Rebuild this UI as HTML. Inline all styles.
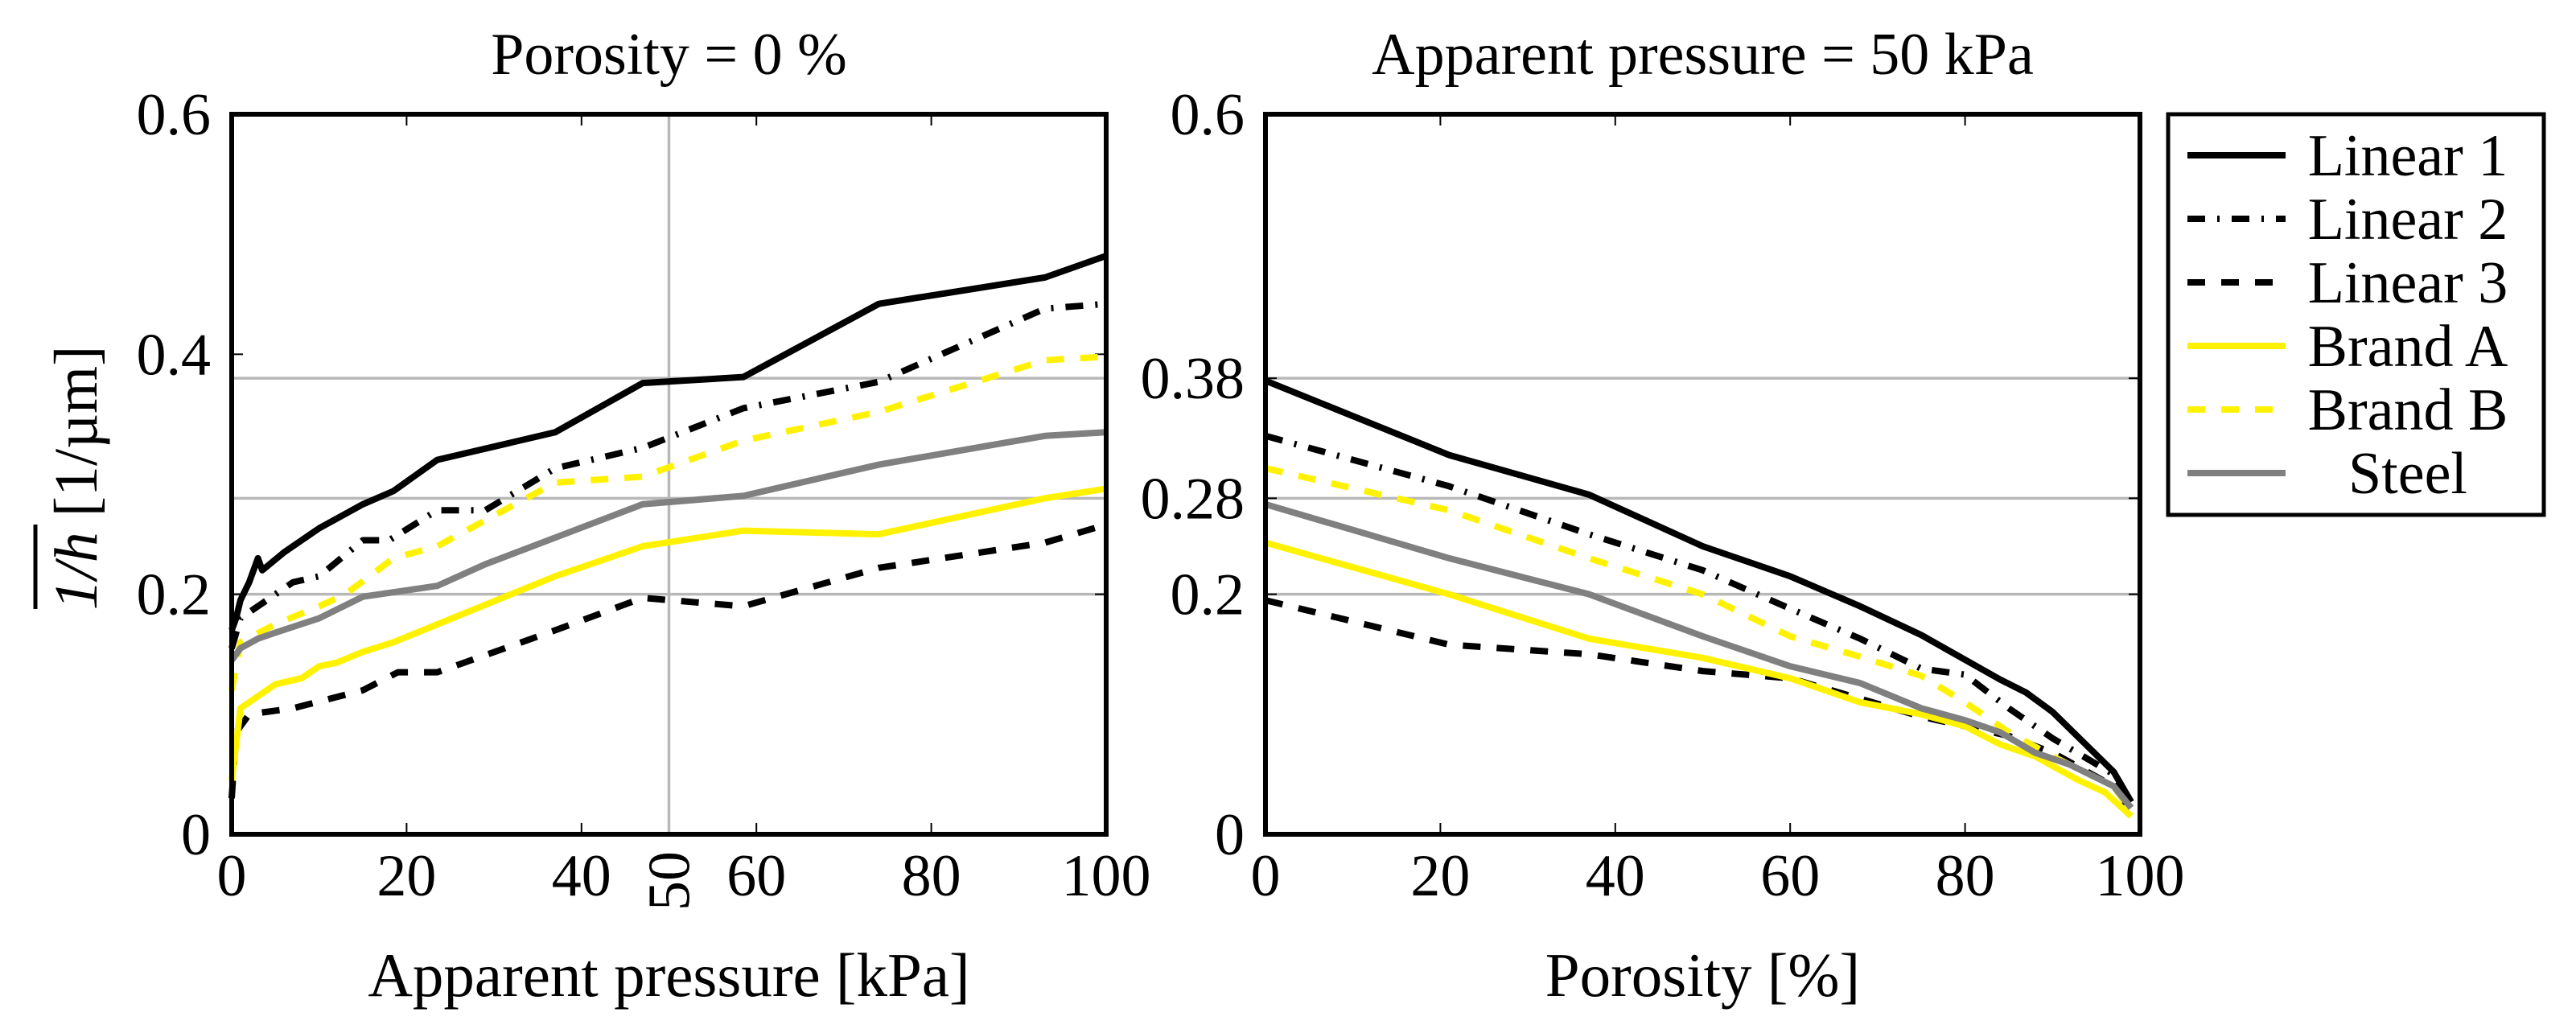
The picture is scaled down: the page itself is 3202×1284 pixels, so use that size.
<!DOCTYPE html>
<html><head><meta charset="utf-8"><style>
html,body{margin:0;padding:0;background:#fff;}
svg{display:block;font-family:"Liberation Serif","DejaVu Serif",serif;}
</style></head><body>
<svg id="fig" width="3202" height="1284" viewBox="0 0 3202 1284" xmlns="http://www.w3.org/2000/svg">
<g id="left"></g>
<g id="right"></g>
<g id="legend"></g>
</svg>
<script>
// ---- Left chart data (x = apparent pressure kPa) ----
const leftL1X=[0,0.5,1,2,3,3.5,6,10,15,18.5,23.5,37,47,58.5,74,93,100];
const leftL1Y=[0.17,0.18,0.195,0.21,0.23,0.22,0.235,0.255,0.275,0.286,0.312,0.335,0.376,0.381,0.442,0.464,0.482];
const leftL2X=[0,1,3,7,10,15,18,23.5,29,37,47,58.5,74,93,100];
const leftL2Y=[0.155,0.18,0.19,0.21,0.215,0.245,0.245,0.27,0.27,0.305,0.322,0.355,0.377,0.438,0.442];
const leftL3X=[0,0.5,2,7,15,19,23.5,37,47,58.5,74,93,100];
const leftL3Y=[0.03,0.085,0.1,0.105,0.12,0.135,0.135,0.17,0.197,0.19,0.222,0.243,0.258];
const leftBAX=[0,1,5,8,10,12,15,18.5,37,47,58.5,74,93,100];
const leftBAY=[0.045,0.105,0.125,0.13,0.14,0.143,0.152,0.16,0.215,0.24,0.253,0.25,0.28,0.288];
const leftBBX=[0,1,5,10,13,18.5,23.5,37,47,58.5,74,93,100];
const leftBBY=[0.12,0.16,0.175,0.19,0.2,0.23,0.24,0.293,0.298,0.328,0.352,0.395,0.398];
const leftStX=[0,1,3,5,10,15,23.5,29,47,58.5,74,93,100];
const leftStY=[0.145,0.155,0.163,0.168,0.18,0.198,0.207,0.225,0.275,0.282,0.308,0.332,0.335];
// ---- Right chart data (x = porosity %) ----
const rightL1X=[0,21,37,50,60,68,75,84,87,90,97,99];
const rightL1Y=[0.378,0.316,0.283,0.24,0.215,0.19,0.166,0.129,0.118,0.102,0.052,0.027];
const rightL2X=[0,21,37,50,60,68,75,80,85,90,97,99];
const rightL2Y=[0.332,0.29,0.25,0.22,0.188,0.163,0.138,0.133,0.105,0.08,0.05,0.025];
const rightL3X=[0,21,37,50,60,68,75,80,85,90,97,99];
const rightL3Y=[0.195,0.158,0.15,0.136,0.13,0.113,0.098,0.09,0.082,0.068,0.04,0.02];
const rightBAX=[0,21,37,50,60,68,75,80,84,88,93,96,99];
const rightBAY=[0.243,0.2,0.163,0.147,0.13,0.11,0.1,0.09,0.075,0.065,0.045,0.035,0.015];
const rightBBX=[0,21,37,50,60,68,75,80,85,90,97,99];
const rightBBY=[0.305,0.27,0.23,0.2,0.165,0.148,0.132,0.11,0.085,0.065,0.04,0.02];
const rightStX=[0,21,37,50,60,68,75,80,84,88,92,97,99];
const rightStY=[0.275,0.23,0.2,0.165,0.14,0.126,0.105,0.095,0.085,0.068,0.058,0.04,0.022];
// ticks
const xTicks=[0,20,40,60,80,100];
const xTickLabels=["0","20","40","60","80","100"];
const leftYTicks=[0,0.2,0.4,0.6];
const leftYTickLabels=["0","0.2","0.4","0.6"];
const rightYTicks=[0,0.2,0.28,0.38,0.6];
const rightYTickLabels=["0","0.2","0.28","0.38","0.6"];
const hGrid=[0.2,0.28,0.38];
const legendNames=["Linear 1","Linear 2","Linear 3","Brand A","Brand B","Steel"];

const NS="http://www.w3.org/2000/svg";
const YEL="#fff200", GRY="#808080";
const styles=[
 {c:"#000",d:""},{c:"#000",d:"22 15 3 15"},{c:"#000",d:"22 20"},
 {c:YEL,d:""},{c:YEL,d:"22 20"},{c:GRY,d:""}];
function mk(tag,attrs,parent){const e=document.createElementNS(NS,tag);for(const k in attrs)e.setAttribute(k,attrs[k]);parent.appendChild(e);return e;}

function chart(g,L,R,T,B,yT,yTL,series,opts){
  const sx=v=>L+(R-L)*v/100, sy=v=>B-(B-T)*v/0.6;
  for(const h of hGrid){const l=mk("line",{x1:L,x2:R,y1:sy(h),y2:sy(h),stroke:"#b8b8b8","stroke-width":3.5},g);
    
    }
  if(opts.vgrid){const l=mk("line",{x1:sx(50),x2:sx(50),y1:T,y2:B,stroke:"#b8b8b8","stroke-width":3.5},g);
    
    }
  xTicks.forEach((v,i)=>{
    mk("line",{x1:sx(v),x2:sx(v),y1:B,y2:B-14,stroke:"#000","stroke-width":2},g);
    mk("line",{x1:sx(v),x2:sx(v),y1:T,y2:T+14,stroke:"#000","stroke-width":2},g);
    const t=mk("text",{x:sx(v),y:B+76,"text-anchor":"middle","font-size":74},g);t.textContent=xTickLabels[i];
    
    });
  yT.forEach((v,i)=>{
    mk("line",{x1:L,x2:L+14,y1:sy(v),y2:sy(v),stroke:"#000","stroke-width":2},g);
    mk("line",{x1:R,x2:R-14,y1:sy(v),y2:sy(v),stroke:"#000","stroke-width":2},g);
    const t=mk("text",{x:L-26,y:sy(v)+25,"text-anchor":"end","font-size":74},g);t.textContent=yTL[i];
    
    });
  if(opts.vgrid){const t=mk("text",{x:0,y:0,"text-anchor":"middle","font-size":74,transform:`translate(${sx(50)+25},${B+58}) rotate(-90)`},g);t.textContent="50";
    
    }
  series.forEach((s,i)=>{
    const pts=s[0].map((x,j)=>sx(x)+","+sy(s[1][j])).join(" ");
    const p=mk("polyline",{points:pts,fill:"none",stroke:styles[i].c,"stroke-width":8,"stroke-dasharray":styles[i].d,"stroke-linejoin":"round"},g);
    
    });
  const f=mk("rect",{x:L,y:T,width:R-L,height:B-T,fill:"none",stroke:"#000","stroke-width":6},g);
  
  
  const ti=mk("text",{x:(L+R)/2,y:92,"text-anchor":"middle","font-size":74},g);ti.textContent=opts.title;
  
  
  const xl=mk("text",{x:(L+R)/2,y:1238,"text-anchor":"middle","font-size":77},g);xl.textContent=opts.xlabel;
  
  
}
const left=document.getElementById("left"), right=document.getElementById("right");
chart(left,288,1375,142,1037,leftYTicks,leftYTickLabels,
 [[leftL1X,leftL1Y],[leftL2X,leftL2Y],[leftL3X,leftL3Y],[leftBAX,leftBAY],[leftBBX,leftBBY],[leftStX,leftStY]],
 {vgrid:true,title:"Porosity = 0 %",xlabel:"Apparent pressure [kPa]"});
chart(right,1573,2660,142,1037,rightYTicks,rightYTickLabels,
 [[rightL1X,rightL1Y],[rightL2X,rightL2Y],[rightL3X,rightL3Y],[rightBAX,rightBAY],[rightBBX,rightBBY],[rightStX,rightStY]],
 {vgrid:false,title:"Apparent pressure = 50 kPa",xlabel:"Porosity [%]"});
// y-axis title
const yl=mk("text",{x:0,y:0,"text-anchor":"middle","font-size":76,transform:"translate(120,594) rotate(-90)"},left);


const ts1=mk("tspan",{"font-style":"italic"},yl);ts1.textContent="1/h";
const ts2=mk("tspan",{},yl);ts2.textContent=" [1/µm]";
const ov=mk("line",{x1:44,x2:44,y1:757,y2:652,stroke:"#000","stroke-width":5},left);


// legend
const lg=document.getElementById("legend");
const lb=mk("rect",{x:2695,y:142,width:467,height:498,fill:"#fff",stroke:"#000","stroke-width":5},lg);


legendNames.forEach((n,i)=>{
  const y=193+79*i;
  const l=mk("line",{x1:2719,x2:2841,y1:y,y2:y,stroke:styles[i].c,"stroke-width":8,"stroke-dasharray":styles[i].d},lg);
  
  
  const t=mk("text",{x:2993,y:y+25,"text-anchor":"middle","font-size":74},lg);t.textContent=n;
  
  
});
</script>
</body></html>
